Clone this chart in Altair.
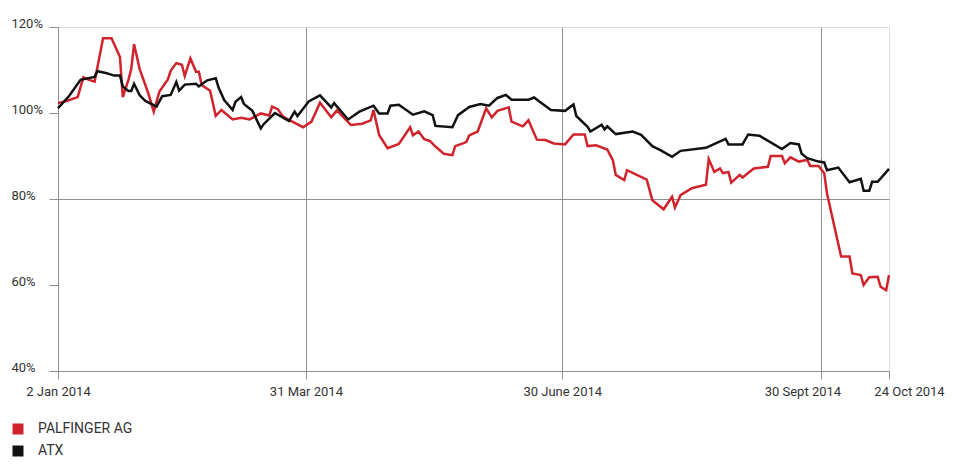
import altair as alt
import pandas as pd

START = pd.Timestamp("2014-01-02")

# PALFINGER AG: days after 2 Jan 2014, index value in %
pal_days = [0, 3, 7, 9, 11, 13, 16, 19, 22, 23, 25, 26, 27, 29, 32, 34, 36, 39, 40, 42,
            44, 45, 47, 49, 50, 51, 54, 56, 58, 62, 65, 68, 72, 75, 76, 78, 80, 82, 87, 90,
            93, 97, 99, 104, 108, 111, 112, 114, 117, 121, 125, 126, 128, 130, 132, 134, 137, 140, 141, 144,
            145, 146, 149, 152, 154, 156, 160, 161, 165, 167, 170, 173, 176, 180, 183, 187, 188, 191, 195, 197,
            198, 201, 202, 209, 211, 215, 218, 219, 221, 225, 230, 231, 233, 235, 236, 238, 239, 242, 243, 247,
            252, 253, 257, 258, 260, 263, 266, 267, 270, 272, 273, 278, 281, 282, 285, 286, 288, 291, 292, 294,
            295]
pal_vals = [102.3, 102.8, 103.7, 108.3, 107.7, 107.3, 117.4, 117.4, 113.0, 103.7, 107.7, 110.2, 116.0, 110.2, 104.7, 100.3, 105.0, 107.8, 109.8, 111.6,
            111.2, 108.6, 112.7, 109.6, 109.6, 106.5, 105.2, 99.3, 100.7, 98.5, 98.9, 98.5, 99.9, 99.4, 101.5, 100.9, 99.1, 98.4, 96.7, 98.0,
            102.4, 99.0, 100.6, 97.2, 97.5, 98.3, 100.7, 94.9, 91.8, 92.8, 96.7, 94.8, 95.7, 93.9, 93.5, 92.2, 90.5, 90.2, 92.3, 93.0,
            93.3, 94.8, 95.7, 101.1, 99.0, 100.5, 101.3, 98.0, 96.9, 98.3, 93.8, 93.7, 92.9, 92.7, 95.0, 95.0, 92.3, 92.5, 91.5, 89.0,
            85.6, 84.4, 86.7, 84.5, 79.7, 77.6, 80.5, 78.0, 80.9, 82.5, 83.3, 89.3, 86.3, 87.1, 86.0, 86.3, 83.8, 85.6, 85.0, 87.1,
            87.5, 90.0, 90.0, 88.3, 89.7, 88.7, 89.1, 87.7, 87.7, 86.0, 81.3, 66.6, 66.6, 62.7, 62.3, 60.0, 61.8, 61.9, 59.6, 58.8,
            62.3]

# ATX
atx_days = [0, 4, 8, 13, 14, 17, 20, 22, 23, 25, 26, 27, 29, 31, 35, 37, 40, 42, 43, 45,
            49, 50, 53, 56, 57, 59, 62, 63, 65, 66, 69, 72, 73, 77, 82, 84, 85, 89, 93, 97,
            98, 103, 107, 112, 114, 117, 118, 121, 126, 130, 133, 134, 140, 142, 146, 150, 153, 156, 159, 161,
            167, 169, 171, 175, 180, 183, 184, 188, 189, 193, 194, 195, 198, 204, 207, 211, 214, 218, 221, 230,
            237, 238, 243, 245, 249, 257, 260, 263, 264, 266, 270, 272, 273, 277, 281, 285, 286, 288, 289, 291,
            295]
atx_vals = [101.1, 104.0, 107.7, 108.4, 109.7, 109.3, 108.7, 108.7, 106.2, 105.1, 105.1, 106.8, 104.1, 102.8, 101.5, 103.9, 104.2, 107.2, 105.2, 106.6,
            106.8, 106.2, 107.6, 108.1, 105.9, 103.0, 100.7, 102.6, 103.7, 102.1, 100.5, 96.4, 97.4, 100.0, 98.1, 100.3, 99.3, 102.7, 104.1, 101.3,
            102.3, 98.5, 100.3, 101.7, 99.9, 99.9, 101.7, 101.9, 99.6, 100.4, 99.5, 97.0, 96.7, 99.5, 101.4, 102.1, 101.7, 103.5, 104.2, 103.1,
            103.1, 103.6, 102.6, 100.7, 100.5, 102.0, 99.3, 96.8, 95.7, 97.3, 96.2, 96.9, 95.1, 95.7, 94.9, 92.3, 91.3, 89.8, 91.2, 91.9,
            94.0, 92.7, 92.7, 95.0, 94.7, 91.6, 93.0, 92.7, 90.5, 89.5, 88.7, 88.5, 86.7, 87.3, 83.9, 84.7, 81.9, 81.9, 84.0, 84.0,
            87.0]

series_names = ["PALFINGER AG", "ATX"]
series_colors = ["#d0232c", "#111111"]

tick_dates = ["2014-01-02", "2014-03-31", "2014-06-30", "2014-09-30", "2014-10-24"]
tick_labels = ["2 Jan 2014", "31 Mar 2014", "30 June 2014", "30 Sept 2014", "24 Oct 2014"]
y_ticks = [40, 60, 80, 100, 120]

assert len(pal_days) == len(pal_vals)
assert len(atx_days) == len(atx_vals)


def frame(days, vals, name):
    return pd.DataFrame({
        "date": START + pd.to_timedelta(days, unit="D"),
        "value": vals,
        "series": name,
    })


df = pd.concat([frame(pal_days, pal_vals, series_names[0]),
                frame(atx_days, atx_vals, series_names[1])], ignore_index=True)
df["date"] = df["date"].dt.strftime("%Y-%m-%dT%H:%M:%S")

tds = [pd.Timestamp(t) for t in tick_dates]
x_values = [alt.DateTime(year=t.year, month=t.month, date=t.day) for t in tds]
label_expr = " : ".join(
    f"(month(datum.value) == {t.month - 1} && date(datum.value) == {t.day}) ? '{lab}'"
    for t, lab in zip(tds, tick_labels)
) + " : ''"

FONT = "Roboto"
GRID = "#8f8f8f"
TEXT = "#333333"

x_enc = alt.X(
    "date:T",
    scale=alt.Scale(domain=[x_values[0], x_values[-1]], nice=False),
    axis=alt.Axis(
        values=x_values,
        labelExpr=label_expr,
        title=None,
        grid=True,
        gridColor=GRID,
        gridWidth=1,
        gridOpacity={"condition": {"test": "month(datum.value) == 9 || month(datum.value) == 0", "value": 0}, "value": 1},
        domainColor=GRID,
        tickColor=GRID,
        tickSize=8,
        labelPadding=6,
        labelFont=FONT,
        labelFontSize=13,
        labelColor=TEXT,
        labelBaseline="top",
        labelOverlap=False,
        labelFlush=False,
        labelOffset={"condition": [
            {"test": "month(datum.value) == 8", "value": -19},
            {"test": "month(datum.value) == 9", "value": 20},
        ], "value": 0},
    ),
)

y_enc = alt.Y(
    "value:Q",
    scale=alt.Scale(domain=[40, 120], nice=False, zero=False),
    axis=alt.Axis(
        values=y_ticks,
        labelExpr="datum.value + '%'",
        title=None,
        grid=True,
        gridColor=GRID,
        gridWidth=1,
        gridOpacity={"condition": {"test": "datum.value == 80", "value": 1}, "value": 0},
        domainColor=GRID,
        tickColor=GRID,
        tickSize=9,
        labelAlign="left",
        labelBaseline="alphabetic",
        labelPadding=38,
        labelFont=FONT,
        labelFontSize=13,
        labelColor=TEXT,
        labelFlush=False,
    ),
)

color_enc = alt.Color(
    "series:N",
    scale=alt.Scale(domain=series_names, range=series_colors),
    legend=alt.Legend(
        title=None,
        orient="none",
        legendX=-47,
        legendY=395,
        direction="vertical",
        symbolType="square",
        symbolSize=25,
        symbolStrokeWidth=6,
        labelFont=FONT,
        labelFontSize=14,
        labelColor=TEXT,
        labelOffset=13,
        rowPadding=-14,
        padding=0,
    ),
)

base = alt.Chart(df).encode(x=x_enc, y=y_enc, color=color_enc)

atx_layer = base.transform_filter(alt.datum.series == series_names[1]).mark_line(strokeWidth=2.5)
pal_layer = base.transform_filter(alt.datum.series == series_names[0]).mark_line(strokeWidth=2.5)

chart = alt.layer(pal_layer, atx_layer).properties(
    width=831,
    height=344,
    padding={"left": 50, "top": 19, "right": 58, "bottom": 87},
    autosize="none",
).configure_view(stroke=None).configure(font=FONT)

chart.save("out.html", embed_options={"renderer": "svg", "actions": False})
